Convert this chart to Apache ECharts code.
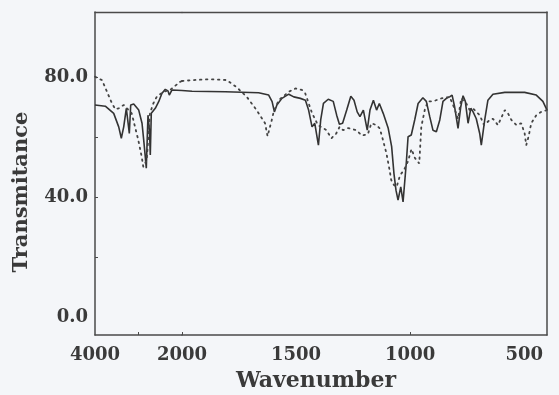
<!DOCTYPE html>
<html>
<head>
<meta charset="utf-8">
<script src="https://cdn.jsdelivr.net/npm/echarts@6/dist/echarts.min.js"></script>
<style>
html,body{margin:0;padding:0;background:#f4f6f9;}
#chart{width:559px;height:395px;}
</style>
</head>
<body>
<div id="chart"></div>
<script>
// Solid spectrum (wavenumber, %T)
const solidWN = [4000,3763,3570,3455,3395,3340,3280,3241,3211,3179,3110,2995,2919,2880,2844,2821,2798,2782,2747,2729,2706,2614,2536,2460,2384,2322,2292,2230,2000,
  1956,1810,1664,1620,1605,1595,1584,1562,1532,1510,1481,1459,1445,1430,1418,1402,1392,1380,1359,1337,1322,1310,1296,1278,1260,1246,1232,1220,1205,1188,1176,1161,1147,1135,1118,1096,1081,1071,1062,1053,1041,1031,1017,1009,995,980,965,944,929,914,900,885,870,856,841,827,816,805,790,778,768,758,746,734,724,710,695,688,673,659,637,585,498,447,418,400];
const solidT = [70.7,70.3,67.9,63.4,59.6,63.4,69.6,70.1,61.2,70.7,71.0,69.0,64.6,59.0,53.4,49.6,60.0,67.3,62.0,54.0,67.9,69.6,71.8,74.6,75.9,75.4,74.0,75.7,75.5,
  75.3,75.1,74.8,74.0,71.8,68.4,70.7,72.9,74.3,73.4,72.9,72.3,69.0,63.4,64.6,57.3,65.7,71.2,72.6,71.9,67.3,64.3,64.6,69.0,73.6,72.3,68.4,66.8,69.0,62.3,69.0,72.3,69.0,71.2,67.9,62.9,56.8,47.9,42.3,39.0,43.4,38.4,51.2,60.1,60.7,65.7,71.2,73.1,71.9,66.8,62.3,61.8,65.7,71.9,72.9,73.4,74.0,70.1,62.9,70.1,73.8,71.9,64.6,69.6,68.4,66.1,61.2,57.3,65.7,72.3,74.3,74.9,74.9,74.0,71.9,69.0];
// Dotted spectrum (wavenumber, %T)
const dotWN = [4000,3839,3724,3609,3533,3455,3340,3310,3156,3080,3005,2926,2890,2811,2736,2660,2582,2430,2276,2046,2000,
  1950,1877,1804,1760,1716,1673,1636,1625,1605,1598,1576,1532,1503,1474,1460,1430,1404,1367,1345,1324,1309,1294,1272,1236,1211,1185,1170,1148,1133,1119,1104,1090,1083,1071,1059,1044,1027,1009,994,979,960,951,936,922,900,863,827,808,790,776,754,739,724,710,695,676,651,637,615,585,571,556,534,513,498,491,481,469,447,425,400];
const dotT = [80.1,79.0,75.1,71.2,69.3,69.6,70.7,70.1,67.9,63.4,59.0,53.4,50.1,52.3,67.9,71.2,73.4,75.1,75.7,78.4,78.7,
  79.0,79.3,79.0,76.6,73.4,69.0,64.6,60.3,66.1,68.5,72.3,75.1,76.2,75.7,74.6,68.0,64.0,62.3,59.6,61.2,63.4,62.3,63.0,62.3,60.5,61.0,64.6,64.0,62.9,59.0,54.6,49.0,45.7,44.0,43.4,47.3,49.0,52.0,56.0,53.0,51.2,63.4,69.0,71.9,71.9,72.9,73.4,70.0,66.1,72.9,71.2,69.0,69.5,68.4,67.3,64.0,65.7,66.1,64.0,69.0,67.9,65.7,64.0,64.6,61.2,57.3,60.1,64.6,67.3,68.4,69.0];

const xBreak = 2000;
const xLeftLabels = [4000, 2000];
const xRightLabels = [1500, 1000, 500];
const xLeftTicks = [3000, 2000];
const xRightTicks = [1000];
const yLabels = [0, 40, 80];
const yTicks = [20, 40, 60, 80];

function pairs(wn, t, hi) {
  const out = [];
  for (let i = 0; i < wn.length; i++) {
    if (hi ? wn[i] >= xBreak : wn[i] <= xBreak) out.push([wn[i], t[i]]);
  }
  return out;
}

const ink = '#3a3a3a';
const font = 'DejaVu Serif';
const lblStyle = {color: ink, fontFamily: font, fontWeight: 'bold', fontSize: 18};
const axLine = {show: true, onZero: false, lineStyle: {color: '#4a4a4a', width: 1.5}};
const topLine = {show: true, onZero: false, lineStyle: {color: '#4a4a4a', width: 1.3}};
const yMin = -6, yMax = 101.7;

const chart = echarts.init(document.getElementById('chart'));
chart.setOption({
  backgroundColor: '#f4f6f9',
  animation: false,
  grid: [
    {left: 95, top: 12, width: 87, height: 323},
    {left: 182, top: 12, width: 365, height: 323}
  ],
  xAxis: [
    {gridIndex: 0, type: 'value', min: 2000, max: 4000, inverse: true, position: 'bottom',
     axisLine: axLine, splitLine: {show: false},
     axisTick: {show: true, inside: true, length: 3, customValues: xLeftTicks, lineStyle: {color: '#4a4a4a'}},
     axisLabel: Object.assign({customValues: xLeftLabels, margin: 11, formatter: v => String(v)}, lblStyle)},
    {gridIndex: 1, type: 'value', min: 400, max: 2000, inverse: true, position: 'bottom',
     axisLine: axLine, splitLine: {show: false},
     axisTick: {show: true, inside: true, length: 3, customValues: xRightTicks, lineStyle: {color: '#4a4a4a'}},
     axisLabel: Object.assign({customValues: xRightLabels, margin: 11, formatter: v => String(v)}, lblStyle)},
    {gridIndex: 0, type: 'value', min: 2000, max: 4000, inverse: true, position: 'top',
     axisLine: topLine, axisTick: {show: false}, axisLabel: {show: false}, splitLine: {show: false}},
    {gridIndex: 1, type: 'value', min: 400, max: 2000, inverse: true, position: 'top',
     axisLine: topLine, axisTick: {show: false}, axisLabel: {show: false}, splitLine: {show: false}}
  ],
  yAxis: [
    {gridIndex: 0, type: 'value', min: yMin, max: yMax, position: 'left',
     axisLine: axLine, splitLine: {show: false},
     axisTick: {show: true, inside: true, length: 3, customValues: yTicks, lineStyle: {color: '#4a4a4a'}},
     axisLabel: Object.assign({customValues: yLabels, margin: 7, formatter: v => v.toFixed(1)}, lblStyle)},
    {gridIndex: 1, type: 'value', min: yMin, max: yMax, position: 'right',
     axisLine: axLine, splitLine: {show: false}, axisTick: {show: false}, axisLabel: {show: false}}
  ],
  graphic: [
    {type: 'text', left: 236, top: 370, style: {text: 'Wavenumber', fill: ink, font: 'bold 22px "DejaVu Serif"'}},
    {type: 'text', style: {text: 'Transmitance', fill: ink, font: 'bold 21px "DejaVu Serif"', align: 'center', verticalAlign: 'middle'}, x: 22, y: 192, rotation: Math.PI / 2}
  ],
  series: [
    {type: 'line', xAxisIndex: 0, yAxisIndex: 0, data: pairs(solidWN, solidT, true), showSymbol: false,
     lineStyle: {color: '#333', width: 1.6}},
    {type: 'line', xAxisIndex: 1, yAxisIndex: 1, data: pairs(solidWN, solidT, false), showSymbol: false,
     lineStyle: {color: '#333', width: 1.6}},
    {type: 'line', xAxisIndex: 0, yAxisIndex: 0, data: pairs(dotWN, dotT, true), showSymbol: false,
     lineStyle: {color: '#444', width: 1.8, type: [1.5, 4.5], cap: 'round'}},
    {type: 'line', xAxisIndex: 1, yAxisIndex: 1, data: pairs(dotWN, dotT, false), showSymbol: false,
     lineStyle: {color: '#444', width: 1.8, type: [1.5, 4.5], cap: 'round'}}
  ]
});
</script>
</body>
</html>
